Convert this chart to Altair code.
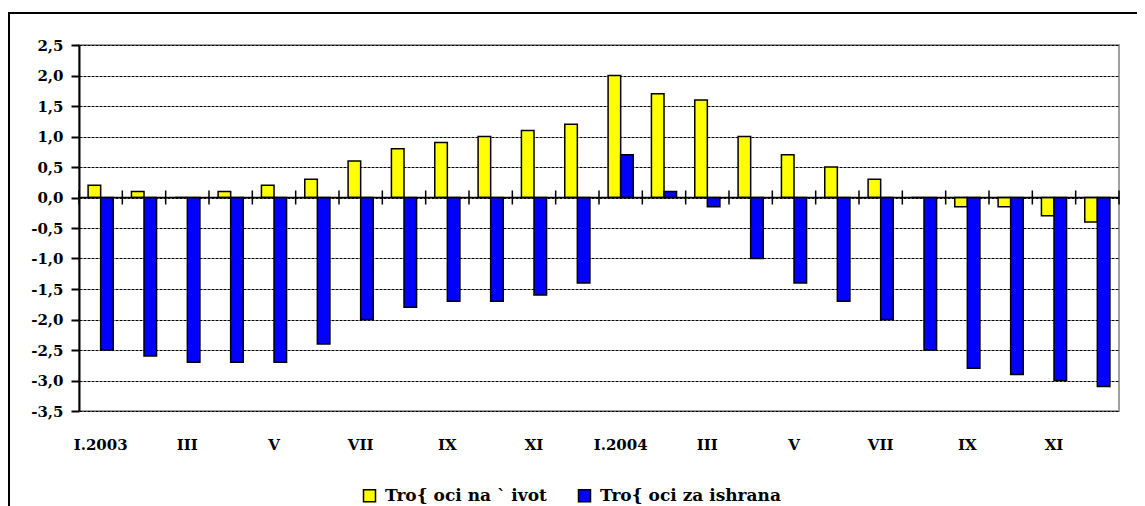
import json
import altair as alt
import pandas as pd

# ---- data ----
month_labels = ["I.2003", "II", "III", "IV", "V", "VI", "VII", "VIII", "IX", "X", "XI", "XII",
                "I.2004", "II", "III", "IV", "V", "VI", "VII", "VIII", "IX", "X", "XI", "XII"]
shown_labels = ["I.2003", "", "III", "", "V", "", "VII", "", "IX", "", "XI", "",
                "I.2004", "", "III", "", "V", "", "VII", "", "IX", "", "XI", ""]
living = [0.2, 0.1, 0.0, 0.1, 0.2, 0.3, 0.6, 0.8, 0.9, 1.0, 1.1, 1.2,
          2.0, 1.7, 1.6, 1.0, 0.7, 0.5, 0.3, 0.0, -0.15, -0.15, -0.3, -0.4]
food = [-2.5, -2.6, -2.7, -2.7, -2.7, -2.4, -2.0, -1.8, -1.7, -1.7, -1.6, -1.4,
        0.7, 0.1, -0.15, -1.0, -1.4, -1.7, -2.0, -2.5, -2.8, -2.9, -3.0, -3.1]
series_names = ["Tro{ oci na ` ivot", "Tro{ oci za ishrana"]
series_colors = ["#FFFF00", "#0000FF"]
y_ticks = [-3.5, -3.0, -2.5, -2.0, -1.5, -1.0, -0.5, 0.0, 0.5, 1.0, 1.5, 2.0, 2.5]

FONT = "DejaVu Serif"
FSIZE = 15

rows = []
for i in range(len(month_labels)):
    rows.append({"m": i, "s": series_names[0], "v": living[i]})
    rows.append({"m": i, "s": series_names[1], "v": food[i]})
df = pd.DataFrame(rows)

label_expr_x = json.dumps(shown_labels) + "[datum.value]"
label_expr_y = ("datum.value < 0 ? '-' + replace(format(abs(datum.value), '.1f'), '.', ',') "
                ": replace(format(datum.value, '.1f'), '.', ',')")

y_scale = alt.Scale(domain=[-3.5, 2.5], nice=False, zero=False)

y_axis = alt.Axis(title=None, values=y_ticks, tickCount=len(y_ticks) + 2,
                  labelExpr=label_expr_y, labelOverlap=False,
                  grid=True, gridColor="black", gridDash=[3, 1], gridWidth=1,
                  domainColor="black", domainWidth=2, tickColor="black",
                  tickWidth=2, tickSize=8, labelPadding=8,
                  labelFont=FONT, labelFontSize=FSIZE, labelFontWeight="bold",
                  labelColor="black")

bars = alt.Chart(df).mark_bar(stroke="black", strokeWidth=1.5).encode(
    x=alt.X("m:O", sort=None,
            scale=alt.Scale(paddingInner=0.42, paddingOuter=0.21),
            axis=alt.Axis(title=None, labelExpr=label_expr_x, ticks=False, domain=False,
                          labelAngle=0, labelPadding=26, labelOverlap=False)),
    xOffset=alt.XOffset("s:N", sort=series_names),
    y=alt.Y("v:Q", scale=y_scale, axis=y_axis),
    color=alt.Color("s:N", sort=series_names,
                    scale=alt.Scale(domain=series_names, range=series_colors),
                    legend=alt.Legend(orient="none", legendX=282, legendY=442,
                                      direction="horizontal", title=None,
                                      symbolType="square", symbolSize=144,
                                      symbolStrokeColor="black", symbolStrokeWidth=1.5,
                                      labelLimit=400, labelFontSize=17,
                                      labelOffset=7, columnPadding=28)),
)

zero_df = pd.DataFrame({"v": [0.0]})
zero_line = alt.Chart(zero_df).mark_rule(color="black", strokeWidth=1.5).encode(
    y=alt.Y("v:Q", axis=y_axis)
)

bounds = pd.DataFrame({"b": list(range(len(month_labels) + 1)), "v": 0.0})
ticks = alt.Chart(bounds).mark_rule(color="black", strokeWidth=1.5,
                                    yOffset=-7, y2Offset=7).encode(
    x=alt.X("b:Q", scale=alt.Scale(domain=[0, len(month_labels)], nice=False, zero=False),
            axis=None),
    y=alt.Y("v:Q", axis=y_axis),
    y2="v",
)

frame = alt.Chart(zero_df).mark_rect(fillOpacity=0, stroke="black", strokeWidth=2).encode(
    x=alt.value(-70), x2=alt.value(1200), y=alt.value(-32), y2=alt.value(600)
)

chart = alt.layer(bars, zero_line, ticks, frame).resolve_scale(x="independent").properties(
    width=1040, height=366,
    autosize=alt.AutoSizeParams(type="none"),
    padding={"left": 71, "top": 37, "right": 18, "bottom": 95},
    background="white",
).configure_view(
    stroke="#a0a0a0", strokeWidth=2
).configure_axis(
    labelFont=FONT, labelFontSize=FSIZE, labelFontWeight="bold", labelColor="black"
).configure_legend(
    labelFont=FONT, labelFontSize=17, labelFontWeight="bold", labelColor="black"
)

chart.save("out.html", embed_options={"renderer": "svg", "actions": False})
